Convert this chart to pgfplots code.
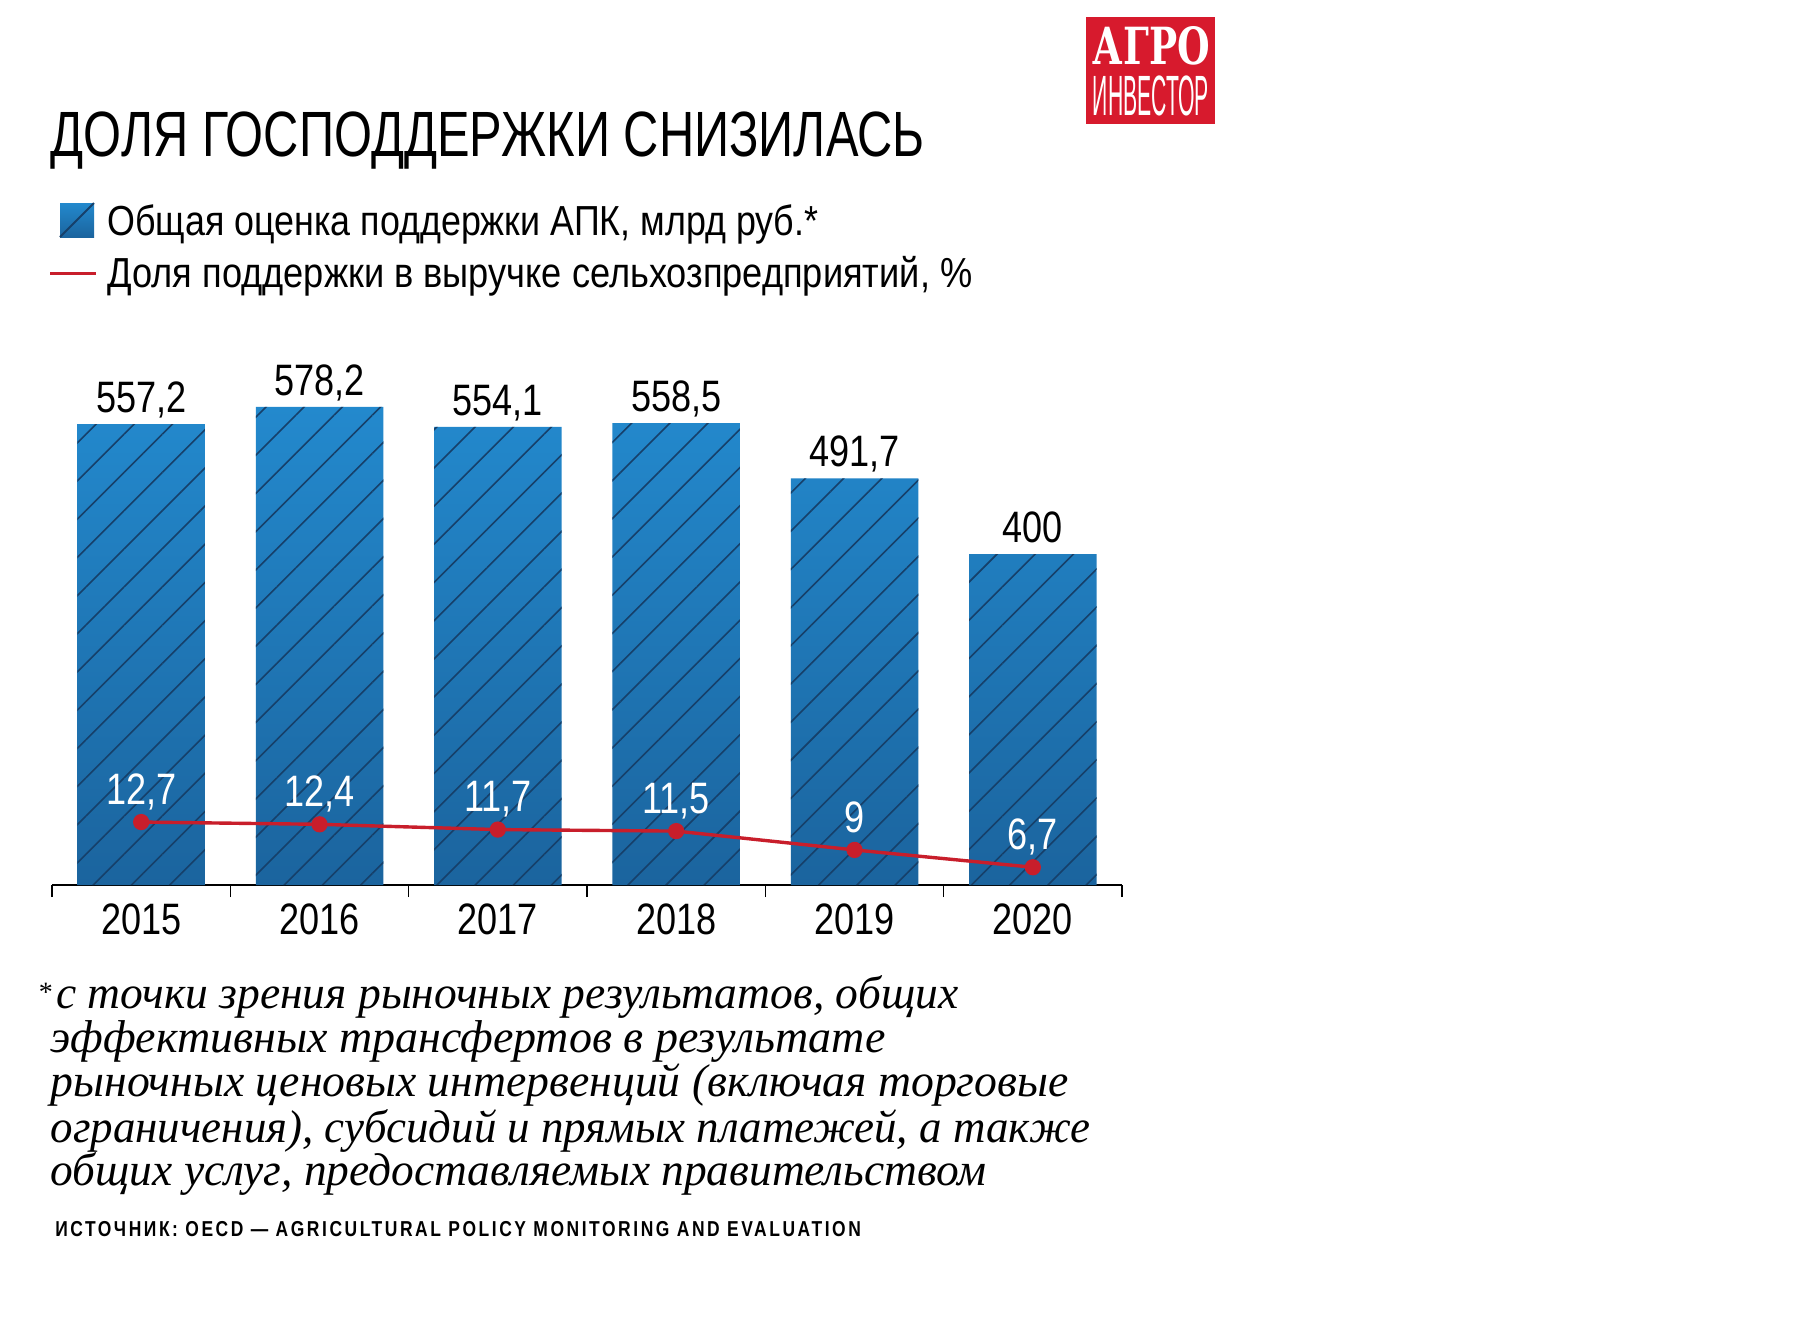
\documentclass[border=0pt]{standalone}
\usepackage{fontspec}
\usepackage{graphicx}
\usepackage{pgfplots}
\pgfplotsset{compat=1.18}
\usetikzlibrary{patterns.meta}
\IfFontExistsTF{Liberation Sans Narrow}{\newfontfamily\cond{Liberation Sans Narrow}}{\newfontfamily\cond[FakeStretch=0.82]{Liberation Sans}}
\setmainfont{Liberation Serif}
\newfontfamily\slab{DejaVu Serif}
\definecolor{bartop}{HTML}{2389CD}
\definecolor{barbot}{HTML}{1B649E}
\definecolor{hatch}{HTML}{16406A}
\definecolor{redc}{HTML}{C81E2B}
\definecolor{logored}{HTML}{D71A2D}
\newsavebox\fitbox
\newlength\fitlen
\newcommand\fitw[2]{\sbox\fitbox{#2}\setlength\fitlen{\wd\fitbox}\pgfmathsetmacro\fitsx{#1/\fitlen}\scalebox{\fitsx}[1]{\usebox\fitbox}}
\begin{document}
\begin{tikzpicture}
\begin{scope}[x=0.25pt,y=-0.25pt]
\path[use as bounding box] (0,0) rectangle (1818,1322);
\end{scope}
% bars
\begin{axis}[
  at={(13pt,-221.25pt)}, anchor=south west, scale only axis,
  width=267.5pt, height=146.25pt,
  xmin=-0.5, xmax=5.5, ymin=0, ymax=707.4,
  axis x line=bottom, axis y line=none,
  axis line style={-, line width=0.5pt, black},
  xtick={0,1,2,3,4,5}, xticklabels={2015,2016,2017,2018,2019,2020},
  major tick length=0pt,
  minor xtick={-0.5,0.5,1.5,2.5,3.5,4.5,5.5}, minor tick length=3pt,
  tick align=outside, minor tick style={line width=0.4pt, black},
  xticklabel style={anchor=base, yshift=-12.4pt, font=\cond\fontsize{11}{12}\selectfont},
  clip=false,
]
\addplot[ybar, bar width=0.715, bar shift=0pt, draw=none,
  top color=bartop, bottom color=barbot]
  coordinates {(0,557.2) (1,578.2) (2,554.1) (3,558.5) (4,491.7) (5,400)};
\addplot[ybar, bar width=0.715, bar shift=0pt, draw=none,
  pattern={Lines[angle=45,distance=6.75pt,line width=0.4pt]}, pattern color=hatch]
  coordinates {(0,557.2) (1,578.2) (2,554.1) (3,558.5) (4,491.7) (5,400)};
\addplot[draw=none, mark=none, nodes near coords, point meta=explicit symbolic,
  every node near coord/.append style={anchor=base, yshift=2.9pt, inner sep=0pt, text=black, font=\cond\fontsize{11}{12}\selectfont}]
  coordinates {(0,557.2) [{557,2}] (1,578.2) [{578,2}] (2,554.1) [{554,1}] (3,558.5) [{558,5}] (4,491.7) [{491,7}] (5,400) [{400}]};
\end{axis}
% share line
\begin{axis}[
  at={(13pt,-221.25pt)}, anchor=south west, scale only axis,
  width=267.5pt, height=146.25pt,
  xmin=-0.5, xmax=5.5, ymin=4.34, ymax=82.0,
  hide axis, clip=false,
]
\addplot[redc, line width=0.85pt, mark=*, mark size=1.6pt, mark options={fill=redc, draw=redc}]
  coordinates {(0,12.7) (1,12.4) (2,11.7) (3,11.5) (4,9) (5,6.7)};
\addplot[draw=none, mark=none, nodes near coords, point meta=explicit symbolic,
  every node near coord/.append style={anchor=base, yshift=4.4pt, inner sep=0pt, text=white, font=\cond\fontsize{11}{12}\selectfont}]
  coordinates {(0,12.7) [{12,7}] (1,12.4) [{12,4}] (2,11.7) [{11,7}] (3,11.5) [{11,5}] (4,9) [{9}] (5,6.7) [{6,7}]};
\end{axis}
\begin{scope}[x=0.25pt,y=-0.25pt]
% logo
\fill[logored] (1086,17) rectangle (1215,124);
\node[anchor=base west, inner sep=0pt, text=white] at (1092,64) {\fitw{29.3pt}{\slab\bfseries\fontsize{12.8}{13}\selectfont АГРО}};
\node[anchor=base west, inner sep=0pt, text=white] at (1092,115) {\fitw{29pt}{\cond\fontsize{14.2}{15}\selectfont ИНВЕСТОР}};
% title
\node[anchor=base west, inner sep=0pt] at (50,156.5) {\fitw{218.5pt}{\cond\fontsize{16}{18}\selectfont ДОЛЯ ГОСПОДДЕРЖКИ СНИЗИЛАСЬ}};
% legend
\shade[top color=bartop, bottom color=barbot] (60,203) rectangle (94,237);
\draw[hatch, line width=0.5pt] (60,237) -- (94,203);
\node[anchor=base west, inner sep=0pt] at (106.7,235.4) {\fitw{177.7pt}{\cond\fontsize{10.5}{12}\selectfont Общая оценка поддержки АПК, млрд руб.*}};
\draw[redc, line width=0.85pt] (50,273.6) -- (96,273.6);
\node[anchor=base west, inner sep=0pt] at (106.7,287.5) {\fitw{216.2pt}{\cond\fontsize{10.5}{12}\selectfont Доля поддержки в выручке сельхозпредприятий, \%}};
% footnote
\node[anchor=north west, inner sep=0pt] at (38,982) {\fontsize{7}{7}\selectfont *};
\node[anchor=base west, inner sep=0pt] at (55.6,1008.7) {\fitw{225.5pt}{\itshape\fontsize{11.5}{13}\selectfont с точки зрения рыночных результатов, общих}};
\node[anchor=base west, inner sep=0pt] at (49.9,1052.7) {\fitw{208.7pt}{\itshape\fontsize{11.5}{13}\selectfont эффективных трансфертов в результате}};
\node[anchor=base west, inner sep=0pt] at (49.9,1096.8) {\fitw{254.5pt}{\itshape\fontsize{11.5}{13}\selectfont рыночных ценовых интервенций (включая торговые}};
\node[anchor=base west, inner sep=0pt] at (49.9,1142) {\fitw{260pt}{\itshape\fontsize{11.5}{13}\selectfont ограничения), субсидий и прямых платежей, а также}};
\node[anchor=base west, inner sep=0pt] at (49.9,1185) {\fitw{233.9pt}{\itshape\fontsize{11.5}{13}\selectfont общих услуг, предоставляемых правительством}};
% source
\node[anchor=base west, inner sep=0pt] at (54.5,1236) {\fitw{201.4pt}{\cond\bfseries\fontsize{5.4}{6}\selectfont\addfontfeature{LetterSpace=12}ИСТОЧНИК: OECD — AGRICULTURAL POLICY MONITORING AND EVALUATION}};
\end{scope}
\end{tikzpicture}
\end{document}
